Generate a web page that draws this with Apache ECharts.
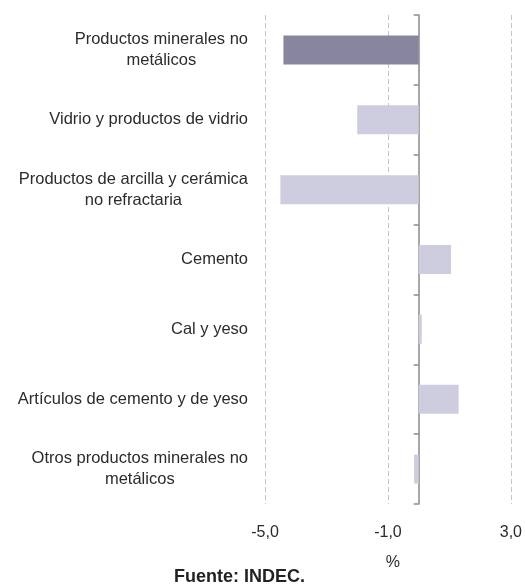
<!DOCTYPE html>
<html>
<head>
<meta charset="utf-8">
<script src="https://cdn.jsdelivr.net/npm/echarts@6/dist/echarts.min.js"></script>
<style>
html,body{margin:0;padding:0;background:#fff;}
#chart{width:525px;height:584px;}
</style>
</head>
<body>
<div id="chart"></div>
<script>
const categories = [
  "Productos minerales no\nmetálicos",
  "Vidrio y productos de vidrio",
  "Productos de arcilla y cerámica\nno refractaria",
  "Cemento",
  "Cal y yeso",
  "Artículos de cemento y de yeso",
  "Otros productos minerales no\nmetálicos"
];
const values = [-4.4, -2.0, -4.5, 1.05, 0.1, 1.3, -0.15];
const highlightIndex = 0;
const xTicks = { min: -5, max: 3, interval: 4 };
const axisName = "%";
const sourceLabel = "Fuente:";
const sourceText = "INDEC.";

const chart = echarts.init(document.getElementById('chart'), null, {renderer: 'canvas'});
const fontFamily = "'Liberation Sans', Arial, sans-serif";
const txt = '#2b2b2b';

const data = values.map((v, i) => ({
  value: v,
  itemStyle: { color: i === highlightIndex ? '#88859e' : '#cecde0' }
}));

chart.setOption({
  animation: false,
  grid: { left: 265, right: 10, top: 15, bottom: 80, containLabel: false },
  xAxis: {
    type: 'value',
    min: xTicks.min, max: xTicks.max, interval: xTicks.interval,
    axisLine: { show: false },
    axisTick: { show: false },
    splitLine: { show: true, lineStyle: { color: '#c4c4c4', type: [5, 3], width: 1 } },
    axisLabel: {
      formatter: v => v.toFixed(1).replace('.', ','),
      color: txt, fontSize: 16, fontFamily, margin: 21
    },
    name: axisName, nameLocation: 'middle', nameGap: 51,
    nameTextStyle: { color: txt, fontSize: 16, fontFamily, padding: [0, 0, 0, 10] }
  },
  yAxis: [
    {
      type: 'category', inverse: true, data: categories,
      axisLine: { show: true, onZero: true, lineStyle: { color: '#8a8a8a', width: 1.5 } },
      axisTick: { show: true, length: 5, lineStyle: { color: '#8a8a8a', width: 1.5 } },
      axisLabel: { show: false },
      splitLine: { show: false }
    },
    {
      type: 'category', inverse: true, data: categories, position: 'left',
      axisLine: { show: false, onZero: false },
      axisTick: { show: false },
      axisLabel: {
        show: true, margin: 17, color: txt, fontSize: 16.5, fontFamily, lineHeight: 21,
        formatter: v => v.split('\n').map(l => '{c|' + l + '}').join('\n'),
        rich: { c: { align: 'center', fontSize: 16.5, fontFamily, color: txt, lineHeight: 21 } }
      },
      splitLine: { show: false }
    }
  ],
  series: [{
    type: 'bar', yAxisIndex: 0, data: data,
    barWidth: 29
  }],
  title: {
    text: '{b|' + sourceLabel + '} {n|' + sourceText + '}',
    left: 169, top: 563,
    textStyle: {
      rich: {
        b: { fontWeight: 'bold', fontSize: 18, fontFamily, color: '#222' },
        n: { fontSize: 18, fontFamily, color: '#222' }
      }
    }
  }
});
</script>
</body>
</html>
